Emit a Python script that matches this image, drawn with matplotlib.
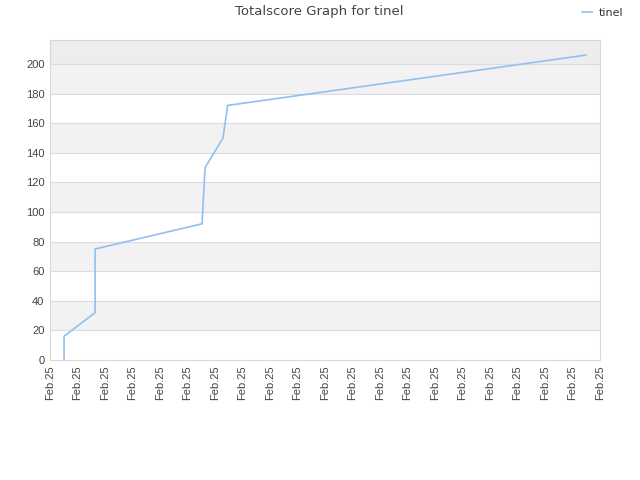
import matplotlib
matplotlib.use("Agg")
import matplotlib.pyplot as plt
from matplotlib.lines import Line2D

# data (x in tick-index units, y score)
xs = [0.51, 0.51, 1.64, 1.64, 5.53, 5.58, 5.64, 6.29, 6.46, 19.49]
ys = [0, 16, 32, 75, 92, 110, 130, 150, 172, 206]
tick_labels = ["Feb.25"] * 21
series_name = "tinel"
title = "Totalscore Graph for tinel"

fig = plt.figure(figsize=(6.4, 4.8), dpi=100)
ax = fig.add_axes([50/640, 120/480, 550/640, 320/480])

ymax = 216.2
ax.set_xlim(0, 20)
ax.set_ylim(0, ymax)

# alternating bands
for i, lo in enumerate(range(0, 220, 20)):
    hi = min(lo + 20, ymax)
    if lo >= 200:
        ax.axhspan(lo, hi, color="#ededed", zorder=0, lw=0)
    elif i % 2 == 1:
        ax.axhspan(lo, hi, color="#f2f2f2", zorder=0, lw=0)

for v in range(20, 220, 20):
    ax.axhline(v, color="#dcdcdc", lw=0.8, zorder=1)

ax.plot(xs, ys, color="#90c0f0", lw=1.2, zorder=3)

ax.set_xticks(range(21))
ax.set_xticklabels(tick_labels, rotation=90, fontsize=8, color="#444444",
                   family="Liberation Sans")
ax.set_yticks(range(0, 201, 20))
ax.set_yticklabels([str(v) for v in range(0, 201, 20)], fontsize=8,
                   color="#444444", family="Liberation Sans")
ax.tick_params(length=0, pad=4)
for s in ax.spines.values():
    s.set_color("#d8d8d8")
    s.set_linewidth(0.8)

fig.text(319/640, 1 - 12/480, title, ha="center", va="center", fontsize=9.5,
         color="#444444", family="DejaVu Sans")

fig.legend(handles=[Line2D([], [], color="#90c0f0", lw=1.2)], labels=[series_name],
           loc="center right", bbox_to_anchor=(633/640, 1 - 13/480), frameon=False,
           handlelength=0.9, handletextpad=0.6,
           labelcolor="#333333", prop={"family": "DejaVu Sans", "size": 8})

fig.savefig("out.png", dpi=100, facecolor="white")
